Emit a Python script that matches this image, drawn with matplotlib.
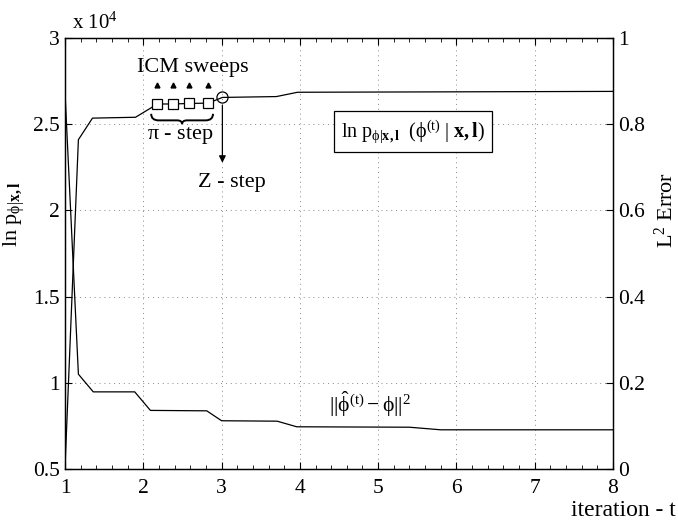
import numpy as np
import matplotlib.pyplot as plt
from matplotlib.path import Path
from matplotlib.patches import PathPatch

plt.rcParams['font.family'] = ['Liberation Serif', 'DejaVu Serif']
plt.rcParams['mathtext.fontset'] = 'custom'
plt.rcParams['mathtext.rm'] = 'Liberation Serif'
plt.rcParams['mathtext.it'] = 'Liberation Serif:italic'
plt.rcParams['mathtext.bf'] = 'Liberation Serif:bold'
plt.rcParams['font.size'] = 15.5

# log-likelihood (x 10^4), left axis
t_lik = [1.0, 1.17, 1.35, 1.9, 2.18, 2.38, 2.58, 2.83, 3.01, 3.7, 3.97, 8.0]
lik = [0.52, 2.41, 2.535, 2.54, 2.617, 2.617, 2.62, 2.622, 2.655, 2.66, 2.685, 2.69]

# L2 error, right axis
t_err = [1.0, 1.17, 1.36, 1.89, 2.09, 2.81, 3.0, 3.71, 3.96, 5.4, 5.8, 8.0]
err = [0.87, 0.22, 0.179, 0.179, 0.136, 0.135, 0.112, 0.111, 0.098, 0.097, 0.091, 0.091]

# ICM sweeps and Z step
icm_t = [2.18, 2.38, 2.58, 2.83]
icm_val = [2.617, 2.617, 2.62, 2.622]
z_t = 3.01
z_val = 2.655

fig = plt.figure(figsize=(6.78, 5.27), dpi=100)
ax = fig.add_axes([0.096, 0.110, 0.808, 0.818])
ax2 = ax.twinx()

ax.plot(t_lik, lik, color='black', lw=0.9)
ax2.plot(t_err, err, color='black', lw=0.9)

ax.plot(icm_t, icm_val, ls='none', marker='s', ms=6.5, mfc='white', mec='black', mew=0.9)
ax.plot(z_t, z_val, ls='none', marker='o', ms=8, mfc='none', mec='black', mew=0.9)
ax.plot(icm_t, [2.727] * len(icm_t), ls='none', marker='^', ms=3.5, color='black')

ax.set_xlim(1, 8)
ax.set_ylim(0.5, 3)
ax2.set_ylim(0, 1)
ax.set_xticks(range(1, 9))
ax.set_xticks(np.arange(1, 8.01, 0.2), minor=True)
ax.set_yticks([0.5, 1, 1.5, 2, 2.5, 3])
ax.set_yticklabels(['0.5', '1', '1.5', '2', '2.5', '3'])
ax2.set_yticks([0, 0.2, 0.4, 0.6, 0.8, 1])
ax2.set_yticklabels(['0', '0.2', '0.4', '0.6', '0.8', '1'])

ax.grid(True, which='major', ls=(0, (1, 4)), color='#888888', lw=0.7)
ax.tick_params(axis='both', which='both', direction='in', top=True)
ax.tick_params(axis='x', which='major', length=5, pad=7)
ax.tick_params(axis='x', which='minor', length=3)
ax.tick_params(axis='y', length=5, pad=4)
ax2.tick_params(axis='y', direction='in', length=5, pad=4)
for a in (ax, ax2):
    for s in a.spines.values():
        s.set_linewidth(0.9)

ax.set_ylabel(r'$\mathrm{ln\ p}_{\mathrm{\phi|}\mathbf{x,l}}$', fontsize=16)
ax.yaxis.set_label_coords(-0.07, 0.59)
ax2.set_ylabel(r'$\mathrm{L}^{\mathrm{2}}\ \mathrm{Error}$', fontsize=16)
ax2.yaxis.set_label_coords(1.076, 0.6)
fig.text(0.997, 0.012, 'iteration - t', ha='right', va='bottom', fontsize=17)
ax.text(0.012, 1.01, r'x 10$^{\mathrm{4}}$', transform=ax.transAxes, ha='left', va='bottom', fontsize=15)

# annotations
ax.text(2.635, 2.826, 'ICM sweeps', ha='center', va='center', fontsize=16)
ax.text(2.47, 2.437, r'$\mathrm{\pi}$ - step', ha='center', va='center', fontsize=16)
ax.text(3.13, 2.16, 'Z - step', ha='center', va='center', fontsize=16)
ax.annotate('', xy=(z_t, 2.26), xytext=(z_t, 2.625),
            arrowprops=dict(arrowstyle='-|>', color='black', lw=0.9, mutation_scale=10))

# brace under the ICM squares
x0, x1 = 2.1, 2.89
xm = (x0 + x1) / 2
ytop, ymid, ybot = 2.56, 2.522, 2.50
w = x1 - x0
verts = [(x0, ytop), (x0, ymid), (x0 + 0.12 * w, ymid), (xm - 0.08 * w, ymid),
         (xm, ymid), (xm, ybot), (xm, ybot), (xm, ymid), (xm + 0.08 * w, ymid),
         (x1 - 0.12 * w, ymid), (x1, ymid), (x1, ytop)]
codes = [Path.MOVETO, Path.CURVE3, Path.CURVE3, Path.LINETO, Path.CURVE3, Path.CURVE3,
         Path.MOVETO, Path.CURVE3, Path.CURVE3, Path.LINETO, Path.CURVE3, Path.CURVE3]
ax.add_patch(PathPatch(Path(verts, codes), fc='none', ec='black', lw=1.4))

ax.text(5.44, 2.46, r'$\mathrm{ln\ p}_{\mathrm{\phi|}\mathbf{x,l}}\ \ (\mathrm{\phi}^{\mathrm{(t)}}\ |\ \mathbf{x,l})$',
        ha='center', va='center', fontsize=14.5,
        bbox=dict(boxstyle='square,pad=0.35', fc='white', ec='black', lw=0.9))
ax.text(4.9, 0.875, r'$||\hat{\mathrm{\phi}}^{\mathrm{(t)}} - \mathrm{\phi}||^{\mathrm{2}}$',
        ha='center', va='center', fontsize=15.5)

fig.savefig('out.png', dpi=100)
